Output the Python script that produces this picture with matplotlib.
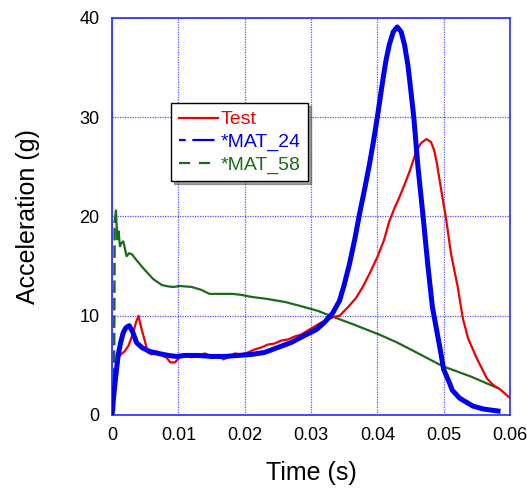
import numpy as np
import matplotlib
matplotlib.use("Agg")
import matplotlib.pyplot as plt
from matplotlib.lines import Line2D
from matplotlib.ticker import FixedLocator, FuncFormatter

plt.rcParams['font.family'] = ['Liberation Sans', 'DejaVu Sans']

# Test (red)
test_t = [0, 0.0003, 0.0008, 0.0011, 0.0015, 0.0019, 0.0025, 0.0032, 0.0036, 0.0040,
          0.0044, 0.0049, 0.0054, 0.006, 0.0068, 0.0075, 0.0082, 0.0088, 0.0095, 0.0102,
          0.011, 0.012, 0.013, 0.014, 0.015, 0.016, 0.0168, 0.0175, 0.0185, 0.0195,
          0.0205, 0.0215, 0.0225, 0.0235, 0.0245, 0.0255, 0.0265, 0.0275, 0.0285, 0.0295,
          0.0305, 0.0315, 0.0325, 0.0335, 0.0343, 0.0355, 0.0368, 0.0378, 0.0388, 0.0400,
          0.0410, 0.0418, 0.0425, 0.0433, 0.0441, 0.0449, 0.0459, 0.0466, 0.0474, 0.0481,
          0.0486, 0.0490, 0.0494, 0.0499, 0.0504, 0.0511, 0.0516, 0.0521, 0.0529, 0.0537,
          0.0550, 0.0565, 0.0575, 0.0585, 0.060]
test_g = [0, 1.5, 4.5, 5.9, 6.2, 6.4, 7.0, 8.3, 9.3, 10.0,
          8.8, 7.6, 6.3, 6.1, 6.4, 6.0, 5.8, 5.3, 5.3, 5.8,
          6.1, 5.8, 6.0, 6.2, 5.9, 6.0, 5.6, 5.8, 6.2, 6.1,
          6.3, 6.6, 6.8, 7.1, 7.2, 7.5, 7.6, 7.9, 8.1, 8.5,
          8.9, 9.3, 9.6, 9.9, 10.0, 10.8, 11.8, 12.9, 14.2, 15.9,
          17.6, 19.5, 20.7, 21.9, 23.2, 24.6, 26.6, 27.4, 27.8, 27.5,
          26.6, 25.3, 23.6, 21.6, 19.6, 16.3, 14.6, 13.0, 9.7, 7.7,
          5.7, 3.7, 3.0, 2.6, 1.7]

# *MAT_24 (blue)
mat24_t = [0, 0.0002, 0.0005, 0.0009, 0.0013, 0.0017, 0.0021, 0.0026, 0.0031, 0.0037,
           0.0045, 0.0057, 0.007, 0.0085, 0.0097, 0.011, 0.013, 0.015, 0.017, 0.019,
           0.021, 0.023, 0.025, 0.027, 0.029, 0.0308, 0.032, 0.0333, 0.0343, 0.0350,
           0.0358, 0.0366, 0.0373, 0.0381, 0.0388, 0.0394, 0.0400, 0.0408, 0.0413, 0.0418,
           0.0424, 0.0430, 0.0436, 0.0441, 0.0446, 0.0449, 0.0455, 0.0461, 0.0469, 0.0476,
           0.0483, 0.0494, 0.0500, 0.0509, 0.0513, 0.0524, 0.0544, 0.0560, 0.0582]
mat24_g = [0, 1.5, 3.5, 5.9, 7.3, 8.3, 8.8, 9.0, 8.4, 7.3,
           6.8, 6.4, 6.2, 6.0, 5.9, 6.0, 6.0, 5.9, 5.9, 6.0,
           6.1, 6.3, 6.8, 7.3, 8.0, 8.6, 9.3, 10.3, 11.5, 13.1,
           15.2, 17.7, 20.2, 22.8, 25.2, 27.5, 30.0, 33.6, 35.7, 37.3,
           38.6, 39.1, 38.6, 37.3, 35.3, 33.6, 30.0, 25.2, 20.0, 15.2,
           10.9, 6.9, 4.6, 3.2, 2.5, 1.7, 0.9, 0.6, 0.4]

# *MAT_58 (green)
mat58_t = [0, 0.0003, 0.0004, 0.0006, 0.0008, 0.0010, 0.0012, 0.0014, 0.0017, 0.0020,
           0.0022, 0.0026, 0.0030, 0.0037, 0.0047, 0.0062, 0.0075, 0.0085, 0.0093, 0.0102,
           0.012, 0.0135, 0.0147, 0.0165, 0.0182, 0.0195, 0.021, 0.0233, 0.026, 0.0283,
           0.031, 0.0333, 0.0365, 0.0403, 0.043, 0.0459, 0.0499, 0.054, 0.0582]
mat58_g = [0, 0.5, 19.5, 20.6, 17.7, 18.5, 17.0, 17.3, 17.5, 16.6,
           16.0, 16.3, 16.2, 15.6, 14.8, 13.7, 13.1, 12.95, 12.9, 13.0,
           12.9, 12.6, 12.2, 12.2, 12.2, 12.1, 11.9, 11.7, 11.4, 11.0,
           10.5, 9.9, 9.1, 8.1, 7.3, 6.3, 4.9, 3.9, 2.7]

x_ticks = [0, 0.01, 0.02, 0.03, 0.04, 0.05, 0.06]
y_ticks = [0, 10, 20, 30, 40]

red = '#ee0000'
blue = '#0000ee'
green = '#1b6b1b'
frame = '#2a2aff'

fig = plt.figure(figsize=(5.27, 4.91), dpi=100)
ax = fig.add_axes([0.2125, 0.1548, 0.7552, 0.8086])

ax.plot(mat58_t[2:], mat58_g[2:], color=green, lw=1.6, zorder=3)
ax.plot(mat58_t[:3], mat58_g[:3], color=green, lw=1.8, ls=(0, (5, 2)), zorder=3)
ax.plot(test_t, test_g, color=red, lw=1.6, zorder=4)
ax.plot(mat24_t, mat24_g, color=blue, lw=3.6, zorder=5, solid_joinstyle='round')

ax.set_xlim(0, 0.06)
ax.set_ylim(0, 40)
ax.xaxis.set_major_locator(FixedLocator(x_ticks))
ax.yaxis.set_major_locator(FixedLocator(y_ticks))
ax.xaxis.set_major_formatter(FuncFormatter(lambda v, p: '{:g}'.format(round(v, 3))))
ax.tick_params(length=0, labelsize=13, pad=9)
ax.grid(True, color=frame, ls=(0, (1, 1)), lw=0.9, alpha=0.8)
for s in ax.spines.values():
    s.set_color(frame)
    s.set_linewidth(1.2)

ax.set_xlabel('Time (s)', fontsize=18)
ax.set_ylabel('Acceleration (g)', fontsize=18)
ax.xaxis.set_label_coords(0.5, -0.115)
ax.yaxis.set_label_coords(-0.18, 0.5)

handles = [Line2D([], [], color=red, lw=1.6),
           Line2D([], [], color=blue, lw=1.6, ls=(0, (3, 3, 10, 2))),
           Line2D([], [], color=green, lw=1.6, ls=(0, (5, 4)))]
leg = ax.legend(handles, ['Test', '*MAT_24', '*MAT_58'],
                loc='upper left', bbox_to_anchor=(171 / 527, 1 - 103 / 491),
                bbox_transform=fig.transFigure, borderaxespad=0,
                fontsize=14, frameon=True, fancybox=False, shadow=True,
                handlelength=2.0, handletextpad=0.15, labelspacing=0.25,
                borderpad=0.4, labelcolor=[red, blue, green])
leg.get_frame().set_edgecolor('black')
leg.get_frame().set_linewidth(1.0)

fig.savefig('out.png', dpi=100)
